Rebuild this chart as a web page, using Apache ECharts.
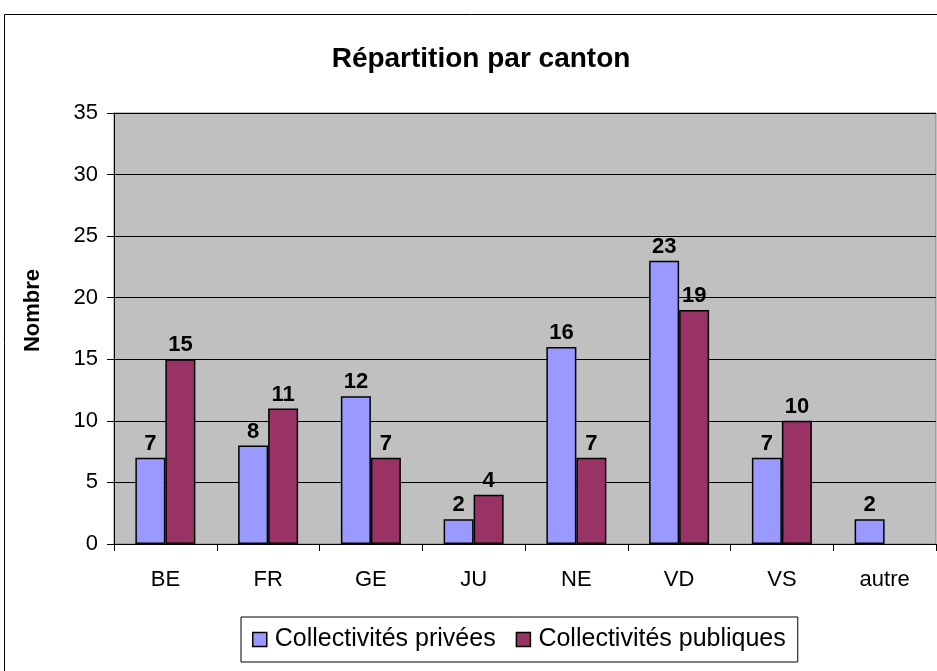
<!DOCTYPE html>
<html><head><meta charset="utf-8">
<script src="https://cdn.jsdelivr.net/npm/echarts@6/dist/echarts.min.js"></script>
<style>html,body{margin:0;padding:0;background:#fff}#c{width:937px;height:671px}</style>
</head><body><div id="c"></div>
<script>
const categories = ['BE','FR','GE','JU','NE','VD','VS','autre'];
const privees = [7, 8, 12, 2, 16, 23, 7, 2];
const publiques = [15, 11, 7, 4, 7, 19, 10, null];
const yTicks = [0, 5, 10, 15, 20, 25, 30, 35];

const chart = echarts.init(document.getElementById('c'));
const F = 'Arial, "Liberation Sans", sans-serif';
const labelCfg = {show: true, position: 'top', distance: 3, fontFamily: F, fontSize: 22, fontWeight: 'bold', color: '#000'};
chart.setOption({
  animation: false,
  backgroundColor: '#fff',
  graphic: [{type: 'rect', shape: {x: 4.5, y: 14.5, width: 940, height: 700}, style: {fill: 'none', stroke: '#000', lineWidth: 1}, silent: true, z: -1}],
  title: {text: 'Répartition par canton', left: 476, top: 40, textAlign: 'center',
    textStyle: {fontFamily: F, fontSize: 28, fontWeight: 'bold', color: '#000'}},
  grid: {left: 114, right: 1, top: 113, bottom: 127, show: true, backgroundColor: '#C0C0C0', borderColor: '#808080', borderWidth: 1},
  legend: {left: 241, top: 617, itemWidth: 14, itemHeight: 14, itemGap: 20,
    padding: [10, 12, 10, 11], borderColor: '#000', borderWidth: 1, backgroundColor: '#fff',
    icon: 'rect',
    textStyle: {fontFamily: F, fontSize: 25, color: '#000', padding: [0, 0, 0, 3]},
    data: [{name: 'Collectivités privées', itemStyle: {borderColor: '#000', borderWidth: 1.5}},
           {name: 'Collectivités publiques', itemStyle: {borderColor: '#000', borderWidth: 1.5}}]},
  xAxis: {type: 'category', data: categories,
    axisLine: {lineStyle: {color: '#000', width: 1}},
    axisTick: {show: true, length: 7, interval: 0, lineStyle: {color: '#000'}},
    axisLabel: {fontFamily: F, fontSize: 22, color: '#000', margin: 25, interval: 0}},
  yAxis: {type: 'value', min: yTicks[0], max: yTicks[yTicks.length - 1], interval: 5,
    name: 'Nombre', nameLocation: 'middle', nameGap: 70, nameRotate: 90,
    nameTextStyle: {fontFamily: F, fontSize: 22, fontWeight: 'bold', color: '#000', padding: [0, 0, 0, 36]},
    axisLine: {show: true, lineStyle: {color: '#000'}},
    axisTick: {show: true, length: 7, lineStyle: {color: '#000'}},
    axisLabel: {fontFamily: F, fontSize: 22, color: '#000', margin: 16},
    splitLine: {show: true, lineStyle: {color: '#000', width: 1}}},
  series: [
    {name: 'Collectivités privées', type: 'bar', data: privees, barWidth: 30, barGap: '0%',
      itemStyle: {color: '#9999FF', borderColor: '#000', borderWidth: 1.5}, label: labelCfg},
    {name: 'Collectivités publiques', type: 'bar', data: publiques, barWidth: 30, barGap: '0%',
      itemStyle: {color: '#993366', borderColor: '#000', borderWidth: 1.5}, label: labelCfg}
  ]
});
</script></body></html>
